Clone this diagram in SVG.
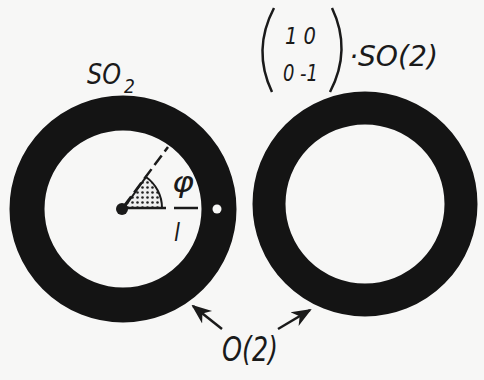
<svg xmlns="http://www.w3.org/2000/svg" width="484" height="380" viewBox="0 0 484 380">
<defs>
<style>
.ring{fill:none;stroke:#141414}
.t{font-family:"DejaVu Sans Condensed","Liberation Sans",sans-serif;font-style:italic;fill:#1a1a1a}
.ln{stroke:#1a1a1a;stroke-width:2.5;fill:none}
</style>
<pattern id="dots" width="5" height="5" patternUnits="userSpaceOnUse">
<rect width="5" height="5" fill="#eee"/>
<circle cx="2.5" cy="2.5" r="1.3" fill="#222"/>
</pattern>
<marker id="ah" viewBox="0 0 10 10" refX="9" refY="5" markerWidth="8" markerHeight="8" orient="auto-start-reverse">
<path d="M0,1 L10,5 L0,9 L3,5 Z" fill="#1a1a1a"/>
</marker>
</defs>
<rect width="484" height="380" fill="#f7f7f6"/>
<g id="ring-left">
<circle class="ring" cx="123" cy="209" r="96" stroke-width="35"/>
<path d="M124,208 L162,208 A38,38 0 0 0 146,177 Z" fill="url(#dots)" stroke="#1a1a1a" stroke-width="2"/>
<line class="ln" x1="122" y1="208" x2="166" y2="208"/>
<line class="ln" x1="174" y1="208" x2="198" y2="208"/>
<line class="ln" x1="124" y1="206" x2="168" y2="147" stroke-dasharray="12,5"/>
<circle cx="122" cy="209" r="6" fill="#1a1a1a"/>
<circle cx="217" cy="209" r="4.5" fill="#f7f7f6"/>
<text class="t" x="172" y="192" font-size="28" textLength="22" lengthAdjust="spacingAndGlyphs">φ</text>
<text class="t" x="174" y="241" font-size="24">l</text>
<text class="t" x="87" y="84" font-size="28" textLength="34" lengthAdjust="spacingAndGlyphs">SO</text>
<text class="t" x="124" y="93" font-size="19">2</text>
</g>
<g id="ring-right">
<path class="ln" d="M274,8 Q252,50 272,92" stroke-width="2.2"/>
<path class="ln" d="M332,8 Q352,50 330,92" stroke-width="2.2"/>
<text class="t" x="285" y="44" font-size="23" textLength="31" lengthAdjust="spacingAndGlyphs">1 0</text>
<text class="t" x="283" y="81" font-size="23" textLength="35" lengthAdjust="spacingAndGlyphs">0 -1</text>
<text class="t" x="349" y="66" font-size="28" textLength="89" lengthAdjust="spacingAndGlyphs">·SO(2)</text>
<circle class="ring" cx="365" cy="204" r="96" stroke-width="33"/>
</g>
<g id="connectors">
<line class="ln" x1="222" y1="329" x2="193" y2="306" stroke-width="2" marker-end="url(#ah)"/>
<line class="ln" x1="278" y1="329" x2="310" y2="310" stroke-width="2" marker-end="url(#ah)"/>
</g>
<g id="label-o2">
<text class="t" x="222" y="361" font-size="33" textLength="56" lengthAdjust="spacingAndGlyphs">O(2)</text>
</g>
</svg>
